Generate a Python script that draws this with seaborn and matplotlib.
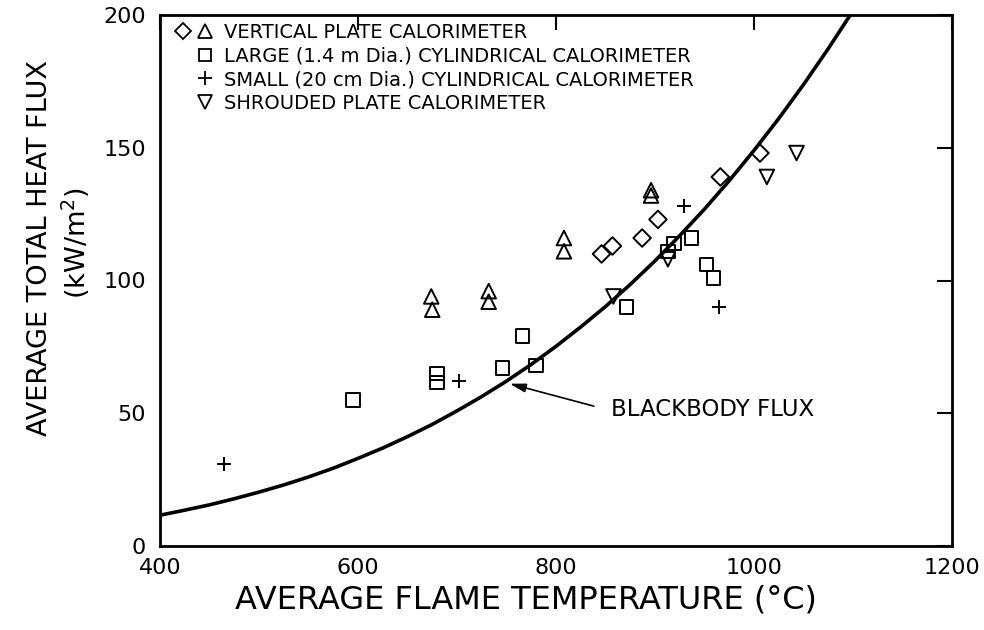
import numpy as np
import pandas as pd
import matplotlib
matplotlib.use("Agg")
import matplotlib.pyplot as plt
from matplotlib.lines import Line2D
from matplotlib.legend_handler import HandlerTuple
import seaborn as sns

# ---- data ----
diamond_T = [846, 857, 887, 903, 966, 1006]
diamond_q = [110, 113, 116, 123, 139, 148]

tri_up_T = [674, 675, 732, 732, 808, 808, 896, 896]
tri_up_q = [94, 89, 96, 92, 116, 111, 134, 132]

square_T = [595, 680, 680, 746, 766, 780, 871, 913, 919, 937, 952, 959]
square_q = [55, 65, 61.5, 67, 79, 68, 90, 111, 114, 116, 106, 101]

plus_T = [465, 702, 929, 965]
plus_q = [31, 62, 128, 90]

tri_down_T = [858, 913, 1013, 1043]
tri_down_q = [94, 108, 139, 148]

# blackbody flux curve, read at 25 degC steps
bb_T = [400, 425, 450, 475, 500, 525, 550, 575, 600, 625, 650, 675, 700, 725, 750,
        775, 800, 825, 850, 875, 900, 925, 950, 975, 1000, 1025, 1050, 1075, 1100]
bb_q = [11.6, 13.5, 15.5, 17.8, 20.3, 23.0, 26.0, 29.3, 33.0, 36.9, 41.2, 45.8, 50.9,
        56.3, 62.1, 68.4, 75.2, 82.5, 90.2, 98.5, 107.4, 116.9, 126.9, 137.6, 149.0,
        161.0, 173.8, 187.3, 201.6]

legend_labels = [
    "VERTICAL PLATE CALORIMETER",
    "LARGE (1.4 m Dia.) CYLINDRICAL CALORIMETER",
    "SMALL (20 cm Dia.) CYLINDRICAL CALORIMETER",
    "SHROUDED PLATE CALORIMETER",
]
x_ticks = [400, 600, 800, 1000, 1200]
y_ticks = [0, 50, 100, 150, 200]

sns.set_theme(style="white")
plt.rcParams["font.family"] = ["DejaVu Sans"]

fig = plt.figure(figsize=(9.84, 6.3), dpi=100)
ax = fig.add_axes([160 / 984, 84 / 630, 792 / 984, 531 / 630])

bb = pd.DataFrame({"T": bb_T, "q": bb_q})
sns.lineplot(data=bb, x="T", y="q", ax=ax, color="black", linewidth=2.6)

mk = dict(facecolor="none", edgecolor="black", linewidth=1.4, legend=False, ax=ax)
sns.scatterplot(x=diamond_T, y=diamond_q, marker="D", s=80, **mk)
sns.scatterplot(x=tri_up_T, y=tri_up_q, marker="^", s=110, **mk)
sns.scatterplot(x=square_T, y=square_q, marker="s", s=95, **mk)
sns.scatterplot(x=tri_down_T, y=tri_down_q, marker="v", s=110, **mk)
sns.scatterplot(x=plus_T, y=plus_q, marker="+", s=110, color="black", linewidth=1.4,
                legend=False, ax=ax)

ax.set_xlim(400, 1200)
ax.set_ylim(0, 200)
ax.set_xticks(x_ticks)
ax.set_yticks(y_ticks)
ax.tick_params(axis="both", which="both", direction="in", length=11, width=1.5,
               labelsize=16, colors="black", top=True, right=True)
ax.tick_params(axis="x", pad=9)
ax.tick_params(axis="y", pad=10)
for s in ax.spines.values():
    s.set_color("black")
    s.set_linewidth(2)

ax.set_xlabel("AVERAGE FLAME TEMPERATURE (°C)", fontsize=23, color="black")
ax.xaxis.set_label_coords((526 - 160) / 792, -(600 - 546) / 531)
ax.xaxis.label.set_verticalalignment("center")
ax.set_ylabel("")
fig.text(40 / 984, 1 - 248 / 630, "AVERAGE TOTAL HEAT FLUX", rotation=90, fontsize=19.5,
         ha="center", va="center", color="black")
fig.text(76 / 984, 1 - 243 / 630, "(kW/m$^2$)", rotation=90, fontsize=19.5,
         ha="center", va="center", color="black")

# legend
kw = dict(linestyle="none", markerfacecolor="none", markeredgecolor="black",
          markeredgewidth=1.3, markersize=10)
blank = Line2D([], [], linestyle="none", marker="none")
handles = [
    (Line2D([], [], marker="D", **{**kw, "markersize": 8.5}), Line2D([], [], marker="^", **kw)),
    (blank, Line2D([], [], marker="s", **{**kw, "markersize": 9})),
    (blank, Line2D([], [], marker="+", **kw)),
    (blank, Line2D([], [], marker="v", **kw)),
]
ax.legend(handles, legend_labels, handler_map={tuple: HandlerTuple(ndivide=None, pad=0.4)},
          loc="upper left", bbox_to_anchor=(0.01, 1.0), frameon=False, fontsize=14,
          handlelength=1.85, handletextpad=0.62, labelspacing=0.24, borderaxespad=0,
          borderpad=0.4, labelcolor="black")

# blackbody annotation
ax.annotate("", xy=(750.5, 61.4), xytext=(841, 52.4),
            arrowprops=dict(arrowstyle="-|>,head_length=0.8,head_width=0.22",
                            color="black", lw=1.2))
ax.text(856, 51.5, "BLACKBODY FLUX", fontsize=16.5, va="center", ha="left", color="black")

fig.savefig("out.png", dpi=100)
